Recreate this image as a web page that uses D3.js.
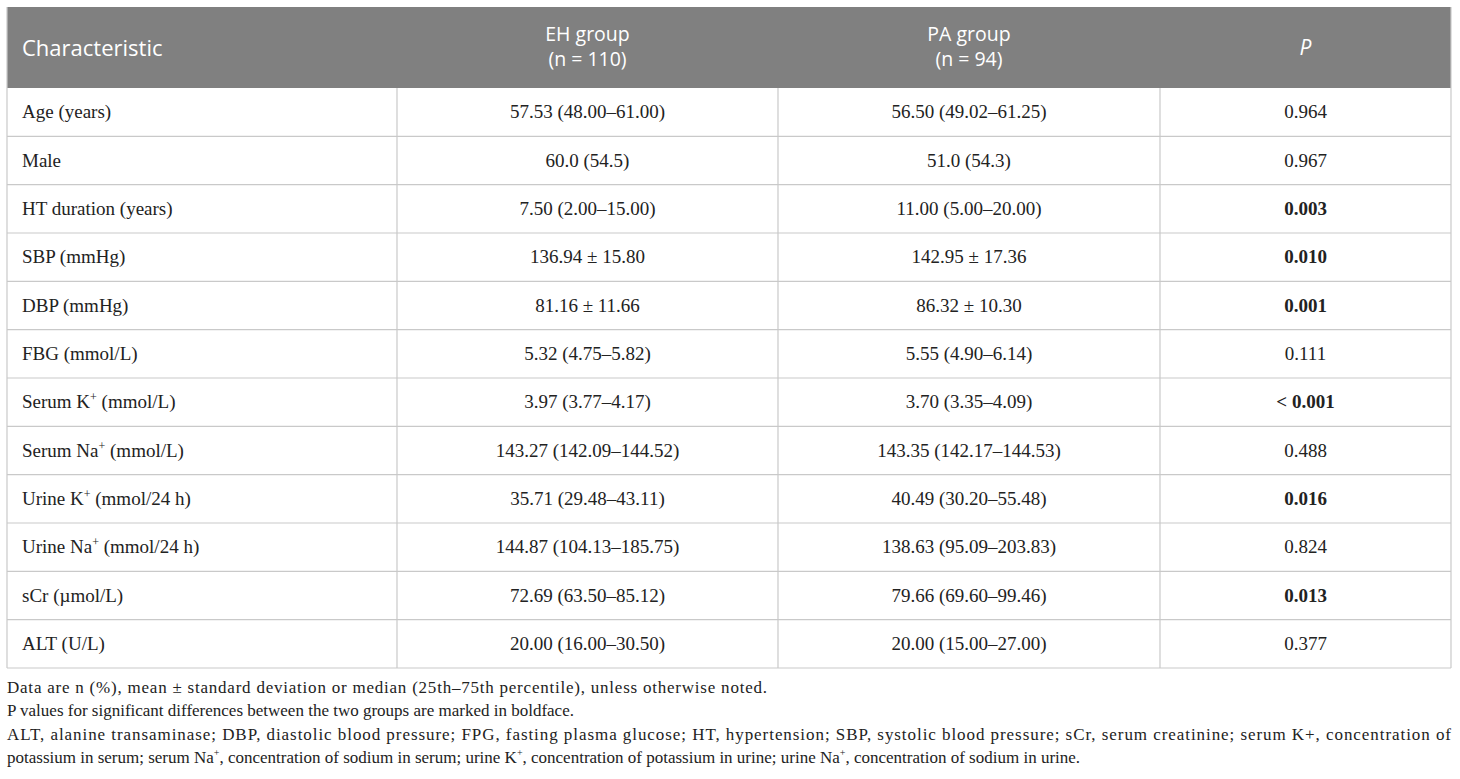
<!DOCTYPE html>
<html>
<head>
<meta charset="utf-8">
<script src="https://cdn.jsdelivr.net/npm/d3@7"></script>
<style>
  html, body { margin: 0; padding: 0; background: #fff; }
  svg { display: block; }
</style>
</head>
<body>
<script>
// table content
var characteristics = [
  ['Age (years)'],
  ['Male'],
  ['HT duration (years)'],
  ['SBP (mmHg)'],
  ['DBP (mmHg)'],
  ['FBG (mmol/L)'],
  ['Serum K', '+', ' (mmol/L)'],
  ['Serum Na', '+', ' (mmol/L)'],
  ['Urine K', '+', ' (mmol/24 h)'],
  ['Urine Na', '+', ' (mmol/24 h)'],
  ['sCr (\u00b5mol/L)'],
  ['ALT (U/L)']
];
var ehValues = [
  '57.53 (48.00\u201361.00)', '60.0 (54.5)', '7.50 (2.00\u201315.00)',
  '136.94 \u00b1 15.80', '81.16 \u00b1 11.66', '5.32 (4.75\u20135.82)',
  '3.97 (3.77\u20134.17)', '143.27 (142.09\u2013144.52)', '35.71 (29.48\u201343.11)',
  '144.87 (104.13\u2013185.75)', '72.69 (63.50\u201385.12)', '20.00 (16.00\u201330.50)'
];
var paValues = [
  '56.50 (49.02\u201361.25)', '51.0 (54.3)', '11.00 (5.00\u201320.00)',
  '142.95 \u00b1 17.36', '86.32 \u00b1 10.30', '5.55 (4.90\u20136.14)',
  '3.70 (3.35\u20134.09)', '143.35 (142.17\u2013144.53)', '40.49 (30.20\u201355.48)',
  '138.63 (95.09\u2013203.83)', '79.66 (69.60\u201399.46)', '20.00 (15.00\u201327.00)'
];
var pValues = ['0.964', '0.967', '0.003', '0.010', '0.001', '0.111',
  '< 0.001', '0.488', '0.016', '0.824', '0.013', '0.377'];
var significant = [false, false, true, true, true, false,
  true, false, true, false, true, false];
var headers = [['Characteristic'], ['EH group', '(n = 110)'], ['PA group', '(n = 94)'], ['P']];
var footnotes = [
  [['Data are n (%), mean \u00b1 standard deviation or median (25th\u201375th percentile), unless otherwise noted.']],
  [['P values for significant differences between the two groups are marked in boldface.']],
  [['ALT, alanine transaminase; DBP, diastolic blood pressure; FPG, fasting plasma glucose; HT, hypertension; SBP, systolic blood pressure; sCr, serum creatinine; serum K+, concentration of']],
  [['potassium in serum; serum Na'], ['+', 'sup'], [', concentration of sodium in serum; urine K'], ['+', 'sup'],
   [', concentration of potassium in urine; urine Na'], ['+', 'sup'], [', concentration of sodium in urine.']]
];

var width = 1460, height = 779;
var tblLeft = 7, tblRight = 1451, tblTop = 7, headH = 81, tblBottom = 668;
var colEdges = [tblLeft, 397, 778, 1160, tblRight];
var serif = '"Liberation Serif", "DejaVu Serif", serif';
var sans = '"Open Sans", "Noto Sans", sans-serif';
var lineCol = '#c9c9c9';

var svg = d3.select('body').append('svg')
    .attr('width', width)
    .attr('height', height);

var y = d3.scaleBand()
    .domain(d3.range(characteristics.length))
    .range([tblTop + headH, tblBottom]);

// header band
svg.append('rect')
    .attr('x', tblLeft).attr('y', tblTop)
    .attr('width', tblRight - tblLeft).attr('height', headH)
    .attr('fill', '#808080');

var head = svg.append('g')
    .attr('font-family', sans)
    .attr('fill', '#fff');

headers.forEach(function(h, i) {
  if (i === 0) {
    head.append('text')
        .attr('x', tblLeft + 15).attr('y', tblTop + headH / 2 + 8)
        .attr('font-size', 22)
        .text(h[0]);
    return;
  }
  var cx = (colEdges[i] + colEdges[i + 1]) / 2;
  if (h.length === 2) {
    head.append('text').attr('text-anchor', 'middle').attr('font-size', 19.5)
        .attr('x', cx).attr('y', tblTop + 34).text(h[0]);
    head.append('text').attr('text-anchor', 'middle').attr('font-size', 19.5)
        .attr('x', cx).attr('y', tblTop + 59).text(h[1]);
  } else {
    head.append('text').attr('text-anchor', 'middle').attr('font-size', 21)
        .attr('x', cx).attr('y', tblTop + headH / 2 + 7)
        .attr('font-style', 'italic').text(h[0]);
  }
});

// grid lines
var grid = svg.append('g').attr('stroke', lineCol).attr('stroke-width', 1.2);
grid.selectAll('line.h')
    .data(d3.range(characteristics.length))
    .join('line')
    .attr('class', 'h')
    .attr('x1', tblLeft).attr('x2', tblRight)
    .attr('y1', function(d) { return y(d) + y.bandwidth(); })
    .attr('y2', function(d) { return y(d) + y.bandwidth(); });
grid.selectAll('line.v')
    .data(colEdges)
    .join('line')
    .attr('class', 'v')
    .attr('x1', function(d) { return d; }).attr('x2', function(d) { return d; })
    .attr('y1', function(d, i) { return (i === 0 || i === colEdges.length - 1) ? tblTop : tblTop + headH; })
    .attr('y2', tblBottom);

// rows
var rows = svg.selectAll('g.row')
    .data(characteristics)
    .join('g')
    .attr('class', 'row')
    .attr('transform', function(d, i) { return 'translate(0,' + (y(i) + y.bandwidth() / 2 + 6) + ')'; })
    .attr('font-family', serif)
    .attr('font-size', 19)
    .attr('fill', '#222');

rows.each(function(d, i) {
  var g = d3.select(this);
  var t = g.append('text').attr('x', tblLeft + 15);
  t.append('tspan').text(d[0]);
  if (d.length > 1) {
    t.append('tspan').attr('font-size', 12).attr('dy', -7).text(d[1]);
    t.append('tspan').attr('dy', 7).text(d[2]);
  }
  g.append('text').attr('text-anchor', 'middle')
      .attr('x', (colEdges[1] + colEdges[2]) / 2).text(ehValues[i]);
  g.append('text').attr('text-anchor', 'middle')
      .attr('x', (colEdges[2] + colEdges[3]) / 2).text(paValues[i]);
  g.append('text').attr('text-anchor', 'middle')
      .attr('x', (colEdges[3] + colEdges[4]) / 2)
      .attr('font-weight', significant[i] ? 'bold' : 'normal')
      .text(pValues[i]);
});

// footnotes
var noteWidths = [767 - tblLeft, null, tblRight - tblLeft, null];
footnotes.forEach(function(parts, i) {
  var t = svg.append('text')
      .attr('x', tblLeft)
      .attr('y', 693 + i * 23.3)
      .attr('font-family', serif)
      .attr('font-size', 17)
      .attr('fill', '#222');
  if (noteWidths[i]) t.attr('textLength', noteWidths[i]).attr('lengthAdjust', 'spacing');
  var up = false;
  parts.forEach(function(p) {
    var s = t.append('tspan').text(p[0]);
    if (p[1] === 'sup') {
      s.attr('font-size', 10).attr('dy', -7);
      up = true;
    } else if (up) {
      s.attr('dy', 7);
      up = false;
    }
  });
});
</script>
</body>
</html>
